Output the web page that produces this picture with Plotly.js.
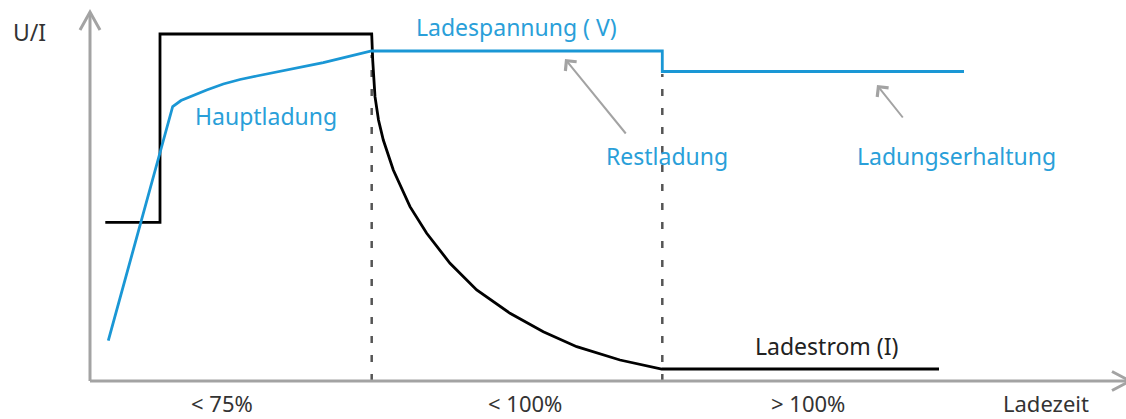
<!DOCTYPE html>
<html>
<head>
<meta charset="utf-8">
<script src="https://cdn.plot.ly/plotly-3.0.1.min.js"></script>
<style>html,body{margin:0;padding:0;background:#fff;}#chart{width:1126px;height:419px;}</style>
</head>
<body>
<div id="chart"></div>
<script>
// ---- Data (x = Ladezeit, y = U/I, arbitrary units) ----
const currentX = [1.53, 7.0, 7.0, 28.17, 28.22, 28.27, 28.5, 28.85, 29.33, 30.33, 32.0, 33.67, 36.0, 38.67, 42.0, 45.33, 48.67, 53.0, 57.17, 84.9];
const currentY = [15.87, 15.87, 34.7, 34.7, 33.4, 32.1, 28.43, 26.1, 24.1, 21.1, 17.43, 14.77, 11.77, 9.1, 6.77, 4.93, 3.43, 2.1, 1.2, 1.2];

const voltageX = [1.83, 8.27, 9.1, 10.0, 11.67, 13.33, 15.0, 16.67, 20.0, 23.33, 28.15, 57.23, 57.23, 87.4];
const voltageY = [4.03, 27.45, 28.05, 28.43, 29.1, 29.7, 30.15, 30.5, 31.17, 31.83, 33.0, 33.0, 30.95, 30.95];

const phaseBounds = [28.17, 57.23];
const phaseBoundTops = [32.6, 30.7];
const phaseLabels = ['< 75%', '< 100%', '> 100%', 'Ladezeit'];
const phaseLabelX = [13.2, 43.5, 71.8, 95.6];

const seriesLabels = ['Ladespannung ( V)', 'Hauptladung', 'Restladung', 'Ladungserhaltung'];
const seriesLabelX = [42.6, 17.6, 57.7, 86.6];
const seriesLabelY = [35.4, 26.5, 22.5, 22.5];

const pointerHeadX = [47.5, 78.7];
const pointerHeadY = [32.2, 29.6];
const pointerTailX = [53.7, 81.4];
const pointerTailY = [24.6, 26.2];

// ---- Styles ----
const BLUE = '#1a97d5';
const BLUE_TEXT = '#2a9fd9';
const AXIS = '#a3a3a3';
const FONT = 'Noto Sans, Open Sans, sans-serif';
const FS = 23;
const FS_BOTTOM = 22;

const traces = [
  {x: currentX, y: currentY, mode: 'lines', line: {color: '#000', width: 2.8}, hoverinfo: 'skip'},
  {x: voltageX, y: voltageY, mode: 'lines', line: {color: BLUE, width: 2.8}, hoverinfo: 'skip'}
];

const shapes = [];
// axes
shapes.push({type: 'line', xref: 'x', yref: 'y', x0: 0, y0: 0, x1: 0, y1: 36.8, line: {color: AXIS, width: 3}});
shapes.push({type: 'path', xref: 'x', yref: 'y', path: 'M -1,35.1 L 0,36.9 L 1,35.1', line: {color: AXIS, width: 3}});
shapes.push({type: 'line', xref: 'x', yref: 'y', x0: 0, y0: 0, x1: 103.9, y1: 0, line: {color: AXIS, width: 3}});
shapes.push({type: 'path', xref: 'x', yref: 'y', path: 'M 102.2,0.95 L 104,0 L 102.2,-0.95', line: {color: AXIS, width: 3}});
// phase boundaries
phaseBounds.forEach((b, i) => {
  shapes.push({type: 'line', xref: 'x', yref: 'y', x0: b, x1: b, y0: 0, y1: phaseBoundTops[i],
    line: {color: '#555', width: 2.5, dash: '7px,12px'}, layer: 'below'});
});

const annotations = [];
annotations.push({x: -6.1, y: 34.9, xref: 'x', yref: 'y', text: 'U/I', showarrow: false,
  font: {family: FONT, size: FS, color: '#333'}});
seriesLabels.forEach((t, i) => {
  annotations.push({x: seriesLabelX[i], y: seriesLabelY[i], xref: 'x', yref: 'y', text: t, showarrow: false,
    font: {family: FONT, size: FS, color: BLUE_TEXT}});
});
annotations.push({x: 73.6, y: 3.5, xref: 'x', yref: 'y', text: 'Ladestrom (I)', showarrow: false,
  font: {family: FONT, size: FS, color: '#222'}});
phaseLabels.forEach((t, i) => {
  annotations.push({x: phaseLabelX[i], y: -3.78, xref: 'x', yref: 'y', yanchor: 'bottom', borderpad: 0,
    text: t, showarrow: false, font: {family: FONT, size: FS_BOTTOM, color: '#333'}});
});
pointerHeadX.forEach((hx, i) => {
  annotations.push({x: hx, y: pointerHeadY[i], xref: 'x', yref: 'y',
    ax: pointerTailX[i], ay: pointerTailY[i], axref: 'x', ayref: 'y', text: '',
    showarrow: true, arrowhead: 4, arrowsize: 1.4, arrowwidth: 2, arrowcolor: AXIS, standoff: 0});
});

const layout = {
  width: 1126, height: 419,
  margin: {l: 0, r: 0, t: 0, b: 0},
  paper_bgcolor: '#fff', plot_bgcolor: '#fff',
  showlegend: false,
  xaxis: {range: [-9, 103.6], visible: false, fixedrange: true},
  yaxis: {range: [-3.8, 38.1], visible: false, fixedrange: true},
  shapes: shapes,
  annotations: annotations
};

Plotly.newPlot('chart', traces, layout, {displayModeBar: false, staticPlot: true});
</script>
</body>
</html>
